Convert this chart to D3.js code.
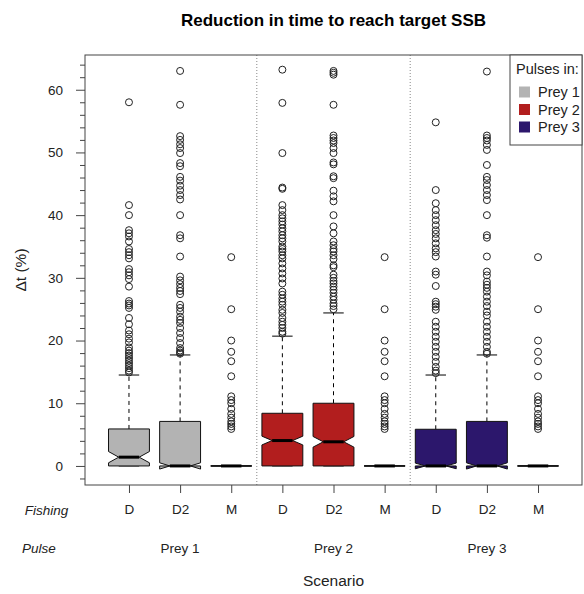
<!DOCTYPE html>
<html>
<head>
<meta charset="utf-8">
<script src="https://cdn.jsdelivr.net/npm/d3@7"></script>
<style>
  html, body { margin: 0; padding: 0; background: #fff; }
  svg text { font-family: "Liberation Sans", Arial, Helvetica, sans-serif; }
</style>
</head>
<body>
<svg id="chart" width="584" height="594"></svg>
<script>
// ---------------- DATA ----------------
const fishingLabels = ["D", "D2", "M", "D", "D2", "M", "D", "D2", "M"];
const pulseLabels = ["Prey 1", "Prey 2", "Prey 3"];
const legendLabels = ["Prey 1", "Prey 2", "Prey 3"];
const yMajorTicks = [0, 10, 20, 30, 40, 50, 60];

const lowerHinge = [0, 0, 0, 0, 0, 0, 0, 0, 0];
const upperHinge = [5.9, 7.1, 0, 8.4, 10.0, 0, 5.85, 7.1, 0];
const medians    = [1.4, 0, 0, 4.05, 3.85, 0, 0, 0, 0];
const notchLow   = [0.5, -0.5, 0, 3.35, 3.0, 0, -0.45, -0.5, 0];
const notchHigh  = [2.3, 0.5, 0, 4.75, 4.7, 0, 0.45, 0.5, 0];
const whiskerLow  = [0, 0, 0, 0, 0, 0, 0, 0, 0];
const whiskerHigh = [14.5, 17.7, 0, 20.7, 24.4, 0, 14.5, 17.7, 0];

const outPrey1D = [58.0, 41.6, 40.0, 37.6, 37.1, 36.6, 35.8, 34.6, 34.1, 33.6, 33.1,
  31.4, 30.9, 30.4, 29.8, 28.6, 26.3, 25.9, 25.6, 25.2, 23.6, 22.6, 21.6, 21.0, 20.3, 19.7,
  18.9, 18.4, 18.0, 17.6, 17.2, 16.8, 16.4, 16.0, 15.6, 15.2, 14.9];
const outPrey1D2 = [63.0, 57.6, 52.6, 52.0, 51.3, 50.7, 49.9, 48.3, 47.8, 46.1, 45.5, 44.7,
  44.0, 43.2, 42.5, 40.0, 36.8, 36.3, 33.4, 30.2, 29.6, 29.0, 28.4, 27.9, 27.4, 25.7, 25.2,
  24.6, 23.8, 23.3, 22.8, 22.0, 21.2, 20.4, 19.6, 18.8, 18.4, 18.1, 17.9];
const outPrey1M = [33.3, 25.0, 20.0, 18.2, 16.7, 14.3, 11.1, 10.5, 10.0, 9.1, 8.3, 7.7,
  7.1, 6.7, 6.3, 5.9];
const outPrey2D = [63.2, 57.9, 49.9, 44.4, 44.2, 41.6, 40.8, 40.0, 39.5, 39.0, 38.5, 37.9,
  37.4, 36.8, 36.3, 35.8, 35.0, 34.6, 34.2, 33.6, 33.1, 32.3, 31.5, 30.7, 29.9, 29.1, 27.8,
  27.3, 26.7, 26.2, 25.7, 24.9, 24.4, 23.6, 23.0, 22.5, 22.0, 21.4, 21.1];
const outPrey2D2 = [63.0, 62.7, 62.4, 57.6, 52.7, 52.3, 51.9, 51.5, 50.7, 49.9, 48.4, 48.1,
  46.2, 45.9, 43.9, 43.0, 42.2, 40.0, 38.2, 37.1, 35.8, 35.2, 34.6, 34.2, 33.6, 33.0, 32.0,
  31.7, 30.5, 30.0, 29.5, 29.1, 28.6, 28.1, 27.6, 27.0, 26.5, 25.9, 25.5, 25.0];
const outPrey2M = [33.3, 25.0, 20.0, 18.2, 16.7, 14.3, 11.1, 10.5, 10.0, 9.1, 8.3, 7.7,
  7.1, 6.7, 6.3, 5.9];
const outPrey3D = [54.8, 44.0, 41.9, 40.8, 40.0, 39.2, 38.4, 37.6, 37.0, 36.3, 35.5, 34.7,
  34.1, 33.4, 31.0, 30.5, 28.7, 26.2, 25.8, 25.4, 24.9, 23.0, 22.2, 21.4, 20.6, 19.8, 19.0,
  18.2, 17.4, 16.6, 15.8, 15.2, 14.8];
const outPrey3D2 = [62.9, 52.7, 52.3, 51.9, 51.2, 50.4, 48.0, 46.1, 45.6, 44.8, 44.0, 43.2,
  42.4, 40.0, 36.8, 36.4, 33.4, 31.0, 30.4, 29.4, 28.9, 28.4, 27.8, 27.0, 26.2, 25.5, 24.6,
  24.0, 23.0, 22.2, 21.4, 20.6, 19.8, 19.0, 18.2, 17.9];
const outPrey3M = [33.3, 25.0, 20.0, 18.2, 16.7, 14.3, 11.1, 10.5, 10.0, 9.1, 8.3, 7.7,
  7.1, 6.7, 6.3, 5.9];
const outliers = [outPrey1D, outPrey1D2, outPrey1M, outPrey2D, outPrey2D2, outPrey2M,
  outPrey3D, outPrey3D2, outPrey3M];

// ---------------- STYLE ----------------
const groupColors = ["#b3b3b3", "#b21e1e", "#2c176c"];
const W = 584, H = 594;
const plot = { left: 85, right: 582, top: 55, bottom: 485 };
const boxHalf = 0.4, notchFrac = 0.5, stapleFrac = 0.5;

const svg = d3.select("#chart");
svg.append("rect").attr("width", W).attr("height", H).attr("fill", "#fff");

const n = fishingLabels.length;
const x = d3.scaleLinear().domain([0.14, n + 0.86]).range([plot.left, plot.right]);
const y = d3.scaleLinear().domain([-3.04, 65.54]).range([plot.bottom, plot.top]);

// group separators
[3.5, 6.5].forEach(v => {
  svg.append("line")
    .attr("x1", x(v)).attr("x2", x(v))
    .attr("y1", plot.top).attr("y2", plot.bottom)
    .attr("stroke", "#888").attr("stroke-width", 1)
    .attr("stroke-dasharray", "1,2");
});

// boxes
const boxes = d3.range(n).map(i => ({
  i, pos: i + 1, q1: lowerHinge[i], q3: upperHinge[i], med: medians[i],
  cLo: notchLow[i], cHi: notchHigh[i], wLo: whiskerLow[i], wHi: whiskerHigh[i],
  out: outliers[i], color: groupColors[Math.floor(i / 3)]
}));

const g = svg.append("g");
boxes.forEach(b => {
  const xc = b.pos;
  // whiskers (dashed)
  g.append("line")
    .attr("x1", x(xc)).attr("x2", x(xc))
    .attr("y1", y(b.q3)).attr("y2", y(b.wHi))
    .attr("stroke", "#000").attr("stroke-width", 1).attr("stroke-dasharray", "4,4");
  g.append("line")
    .attr("x1", x(xc)).attr("x2", x(xc))
    .attr("y1", y(b.q1)).attr("y2", y(b.wLo))
    .attr("stroke", "#000").attr("stroke-width", 1).attr("stroke-dasharray", "4,4");
  // staples
  [b.wHi, b.wLo].forEach(v => {
    g.append("line")
      .attr("x1", x(xc - boxHalf * stapleFrac)).attr("x2", x(xc + boxHalf * stapleFrac))
      .attr("y1", y(v)).attr("y2", y(v))
      .attr("stroke", "#000").attr("stroke-width", 1);
  });
  // notched box polygon (as in R's bxp)
  const w = boxHalf;
  const pts = [
    [xc - w, b.q1], [xc + w, b.q1], [xc + w, b.cLo], [xc + w * notchFrac, b.med],
    [xc + w, b.cHi], [xc + w, b.q3], [xc - w, b.q3], [xc - w, b.cHi],
    [xc - w * notchFrac, b.med], [xc - w, b.cLo]
  ];
  g.append("polygon")
    .attr("points", pts.map(p => [x(p[0]), y(p[1])].join(",")).join(" "))
    .attr("fill", b.color).attr("stroke", "#111").attr("stroke-width", 1)
    .attr("stroke-linejoin", "miter");
  // median
  g.append("line")
    .attr("x1", x(xc - w * notchFrac)).attr("x2", x(xc + w * notchFrac))
    .attr("y1", y(b.med)).attr("y2", y(b.med))
    .attr("stroke", "#000").attr("stroke-width", 3);
  // outliers
  g.selectAll(null).data(b.out).enter().append("circle")
    .attr("cx", x(xc)).attr("cy", d => y(d)).attr("r", 3.5)
    .attr("fill", "none").attr("stroke", "#222").attr("stroke-width", 1);
});

// frame
svg.append("rect")
  .attr("x", plot.left).attr("y", plot.top)
  .attr("width", plot.right - plot.left).attr("height", plot.bottom - plot.top)
  .attr("fill", "none").attr("stroke", "#444").attr("stroke-width", 1);

// y axis major
const yAxis = svg.append("g").attr("transform", `translate(${plot.left},0)`)
  .call(d3.axisLeft(y).tickValues(yMajorTicks).tickSize(9).tickPadding(13).tickFormat(d3.format("d")));
yAxis.select(".domain").remove();
yAxis.selectAll("text").attr("font-size", 13.5).attr("fill", "#222");
yAxis.selectAll("line").attr("stroke", "#444");
// y axis minor
const minorTicks = d3.range(-2, 65, 2).filter(v => v % 10 !== 0);
const yMinor = svg.append("g").attr("transform", `translate(${plot.left},0)`)
  .call(d3.axisLeft(y).tickValues(minorTicks).tickSize(5).tickFormat(""));
yMinor.select(".domain").remove();
yMinor.selectAll("line").attr("stroke", "#444");

// x axis
const xAxis = svg.append("g").attr("transform", `translate(0,${plot.bottom})`)
  .call(d3.axisBottom(x).tickValues(d3.range(1, n + 1)).tickSize(8).tickPadding(11)
    .tickFormat(d => fishingLabels[d - 1]));
xAxis.select(".domain").remove();
xAxis.selectAll("text").attr("font-size", 13.5).attr("fill", "#222");
xAxis.selectAll("line").attr("stroke", "#444");

// pulse row
pulseLabels.forEach((p, k) => {
  svg.append("text").attr("x", x(3 * k + 2)).attr("y", 553)
    .attr("text-anchor", "middle").attr("font-size", 13.5).attr("fill", "#222").text(p);
});
svg.append("text").attr("x", 46.5).attr("y", 515).attr("text-anchor", "middle")
  .attr("font-size", 13.5).attr("font-style", "italic").attr("fill", "#222").text("Fishing");
svg.append("text").attr("x", 39).attr("y", 553).attr("text-anchor", "middle")
  .attr("font-size", 13.5).attr("font-style", "italic").attr("fill", "#222").text("Pulse");

// axis titles
svg.append("text").attr("x", (plot.left + plot.right) / 2).attr("y", 586)
  .attr("text-anchor", "middle").attr("font-size", 15.5).attr("fill", "#222").text("Scenario");
svg.append("text").attr("transform", `translate(26,${(plot.top + plot.bottom) / 2}) rotate(-90)`)
  .attr("text-anchor", "middle").attr("font-size", 15.5).attr("fill", "#222").text("Δt (%)");

// title
svg.append("text").attr("x", (plot.left + plot.right) / 2).attr("y", 26)
  .attr("text-anchor", "middle").attr("font-size", 17).attr("font-weight", "bold")
  .attr("fill", "#000").text("Reduction in time to reach target SSB");

// legend
const lg = svg.append("g");
lg.append("rect").attr("x", 510).attr("y", plot.top).attr("width", plot.right - 510).attr("height", 90)
  .attr("fill", "#fff").attr("stroke", "#444").attr("stroke-width", 1);
lg.append("text").attr("x", 516).attr("y", 74).attr("font-size", 14.5).attr("fill", "#222").text("Pulses in:");
legendLabels.forEach((l, k) => {
  const cy = 92 + k * 17.5;
  lg.append("rect").attr("x", 519).attr("y", cy - 5.5).attr("width", 11).attr("height", 11)
    .attr("fill", groupColors[k]);
  lg.append("text").attr("x", 538).attr("y", cy + 5).attr("font-size", 14.5).attr("fill", "#222").text(l);
});
</script>
</body>
</html>
